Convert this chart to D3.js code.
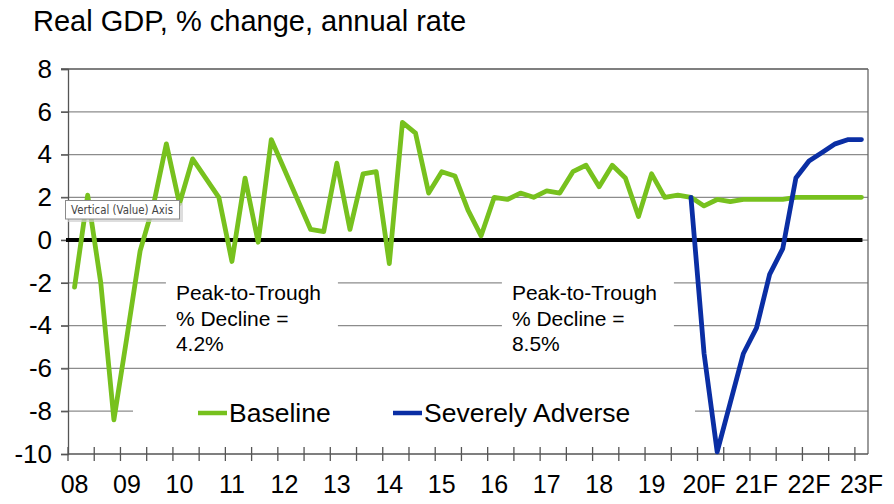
<!DOCTYPE html>
<html>
<head>
<meta charset="utf-8">
<script src="https://cdn.jsdelivr.net/npm/d3@7"></script>
<style>
  html, body { margin: 0; padding: 0; background: #fff; }
  svg { display: block; font-family: "Liberation Sans", Arial, sans-serif; }
</style>
</head>
<body>
<svg id="chart" width="894" height="504"></svg>
<script>
// ---------- data ----------
const quarters = [];
for (let y = 2008; y <= 2023; y++) for (let q = 1; q <= 4; q++) if (!(y === 2023 && q > 1)) quarters.push(y + "Q" + q);

const baseline = [
  -2.2, 2.1, -2.0, -8.4, -4.5, -0.5, 1.6, 4.5,
  1.7, 3.8, 2.9, 2.0, -1.0, 2.9, -0.1, 4.7,
  3.3, 1.9, 0.5, 0.4, 3.6, 0.5, 3.1, 3.2,
  -1.1, 5.5, 5.0, 2.2, 3.2, 3.0, 1.4, 0.2,
  2.0, 1.9, 2.2, 2.0, 2.3, 2.2, 3.2, 3.5,
  2.5, 3.5, 2.9, 1.1, 3.1, 2.0, 2.1, 2.0,
  1.6, 1.9, 1.8, 1.9, 1.9, 1.9, 1.9, 2.0,
  2.0, 2.0, 2.0, 2.0, 2.0
];
const severelyAdverseStart = "2019Q4";
const severelyAdverse = [2.0, -5.3, -9.9, -7.6, -5.3, -4.1, -1.6, -0.4, 2.9, 3.7, 4.1, 4.5, 4.7, 4.7];

const xTickLabels = ["08","09","10","11","12","13","14","15","16","17","18","19","20F","21F","22F","23F"];
const yTicks = [8, 6, 4, 2, 0, -2, -4, -6, -8, -10];

const titleText = "Real GDP, % change, annual rate";
const annotationQuarters = ["2010Q1", "2016Q3"];
const annotationLines = [
  ["Peak-to-Trough", "% Decline =", "4.2%"],
  ["Peak-to-Trough", "% Decline =", "8.5%"]
];
const seriesNames = ["Baseline", "Severely Adverse"];
const seriesColors = ["#77c11e", "#0a2ea4"];

// ---------- layout ----------
const svg = d3.select("#chart");
const L = 68, R = 868, T = 69, B = 454;

const x = d3.scaleBand().domain(quarters).range([L, R]).padding(0);
const cx = q => x(q) + x.bandwidth() / 2;
const y = d3.scaleLinear().domain([-10, 8]).range([B, T]);

svg.append("rect").attr("width", 894).attr("height", 504).attr("fill", "#fff");

// title
svg.append("text").attr("x", 33).attr("y", 31)
  .attr("font-size", 29).attr("fill", "#000").text(titleText);

// gridlines (except bottom axis)
svg.append("g").selectAll("line").data(yTicks.filter(d => d !== -10)).join("line")
  .attr("x1", L - 7).attr("x2", R)
  .attr("y1", d => y(d)).attr("y2", d => y(d))
  .attr("stroke", d => d === 8 ? "#555" : "#8c8c8c").attr("stroke-width", 1.3);

// right border
svg.append("line").attr("x1", R).attr("x2", R).attr("y1", T).attr("y2", B)
  .attr("stroke", "#666").attr("stroke-width", 1.3);

// y axis
const yAxis = d3.axisLeft(y).tickValues(yTicks).tickSize(7).tickPadding(9).tickFormat(d3.format("d"));
const gy = svg.append("g").attr("transform", `translate(${L},0)`).call(yAxis);
gy.select(".domain").attr("stroke", "#555").attr("stroke-width", 1.3);
gy.selectAll(".tick line").attr("stroke", "#555").attr("stroke-width", 1.3);
gy.selectAll(".tick text").attr("font-size", 26).attr("fill", "#000")
  .attr("font-family", "'Liberation Sans', Arial, sans-serif")
  .text(d => d < 0 ? "-" + Math.abs(d) : d);

// x axis: cross ticks every 2 quarters, labels every 4
const gx = svg.append("g");
gx.append("line").attr("x1", L).attr("x2", R).attr("y1", B).attr("y2", B)
  .attr("stroke", "#555").attr("stroke-width", 1.3);
gx.selectAll("line.tk").data(quarters.filter((q, i) => i % 2 === 0)).join("line")
  .attr("class", "tk")
  .attr("x1", d => x(d)).attr("x2", d => x(d))
  .attr("y1", B - 7).attr("y2", B + 7)
  .attr("stroke", "#555").attr("stroke-width", 1.3);
gx.selectAll("text").data(quarters.filter((q, i) => i % 4 === 0)).join("text")
  .attr("x", d => cx(d)).attr("y", 493)
  .attr("text-anchor", "middle").attr("font-size", 25).attr("fill", "#000")
  .text((d, i) => xTickLabels[i]);

// annotation boxes
const annOffsets = [3, -2];
const annG = svg.append("g");
annotationQuarters.forEach((q, k) => {
  const x0 = x(q) + annOffsets[k];
  annG.append("rect").attr("x", x0 - 10).attr("y", 276).attr("width", 172).attr("height", 86).attr("fill", "#fff");
  const t = annG.append("text").attr("x", x0).attr("y", 300).attr("font-size", 21).attr("fill", "#000");
  annotationLines[k].forEach((ln, i) => t.append("tspan").attr("x", x0).attr("dy", i === 0 ? 0 : 25.5).text(ln));
});

// legend box
const leg = svg.append("g");
leg.append("rect").attr("x", 133).attr("y", 390).attr("width", 562).attr("height", 46).attr("fill", "#fff");
const legX = [198, 393];
seriesNames.forEach((name, i) => {
  leg.append("line").attr("x1", legX[i]).attr("x2", legX[i] + 29).attr("y1", 413).attr("y2", 413)
    .attr("stroke", seriesColors[i]).attr("stroke-width", 4.5);
  leg.append("text").attr("x", legX[i] + 31).attr("y", 422).attr("font-size", 26.5).attr("fill", "#000").text(name);
});

// zero line
svg.append("line").attr("x1", L - 2).attr("x2", cx(quarters[quarters.length - 1]) + 1)
  .attr("y1", y(0)).attr("y2", y(0)).attr("stroke", "#000").attr("stroke-width", 4);

// series
const line = d3.line().x(d => cx(d.q)).y(d => y(d.v));
const baseData = quarters.map((q, i) => ({ q, v: baseline[i] }));
const sIdx = quarters.indexOf(severelyAdverseStart);
const sevData = severelyAdverse.map((v, i) => ({ q: quarters[sIdx + i], v }));

svg.append("path").datum(baseData).attr("d", line).attr("fill", "none")
  .attr("stroke", seriesColors[0]).attr("stroke-width", 4.8).attr("stroke-linejoin", "round").attr("stroke-linecap", "round");
svg.append("path").datum(sevData).attr("d", line).attr("fill", "none")
  .attr("stroke", seriesColors[1]).attr("stroke-width", 4.8).attr("stroke-linejoin", "round").attr("stroke-linecap", "round");

// tooltip
const tip = svg.append("g");
tip.append("rect").attr("x", 68).attr("y", 203).attr("width", 115).attr("height", 19).attr("fill", "#cfcfcf").attr("opacity", 0.7);
tip.append("rect").attr("x", 65.5).attr("y", 200.5).attr("width", 114).attr("height", 18.5)
  .attr("fill", "#fff").attr("stroke", "#8a8a8a").attr("stroke-width", 1);
tip.append("text").attr("x", 71).attr("y", 214).attr("font-size", 11.5)
  .attr("font-family", "'DejaVu Sans', 'Noto Sans', sans-serif").attr("fill", "#444")
  .attr("textLength", 102).attr("lengthAdjust", "spacingAndGlyphs")
  .text("Vertical (Value) Axis");
</script>
</body>
</html>
